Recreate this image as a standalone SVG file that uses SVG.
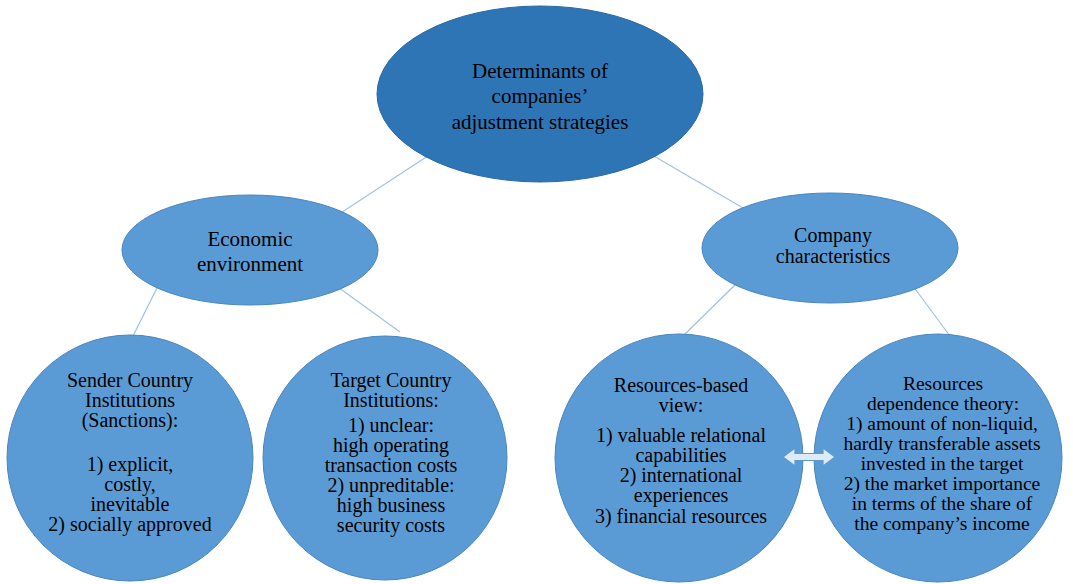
<svg xmlns="http://www.w3.org/2000/svg" width="1073" height="584" viewBox="0 0 1073 584">
<style>
.bg{fill:#ffffff}
.conn{stroke:#9DC3E6;stroke-width:1.2;fill:none}
.top{fill:#2E75B6;stroke:#2A69A4;stroke-width:1}
.node{fill:#5B9BD5;stroke:#4A86BF;stroke-width:1}
text{font-family:'Liberation Serif','DejaVu Serif',serif;fill:#000;text-anchor:middle}
.t21{font-size:21px}
.t20{font-size:20px}
.t19{font-size:19.5px}
.arrow{fill:#DEEBF7;stroke:#5B9BD5;stroke-width:1.2}
</style>
<rect class="bg" x="0" y="0" width="1073" height="584"/>
<g id="connectors">
<line class="conn" x1="440" y1="148" x2="330" y2="220"/>
<line class="conn" x1="640" y1="148" x2="750" y2="212"/>
<line class="conn" x1="160" y1="282" x2="132" y2="338"/>
<line class="conn" x1="335" y1="285" x2="400" y2="332"/>
<line class="conn" x1="740" y1="280" x2="683" y2="336"/>
<line class="conn" x1="910" y1="282" x2="950" y2="336"/>
</g>
<g id="node-root">
<ellipse class="top" cx="540" cy="94" rx="163" ry="88"/>
<text class="t21" x="540" y="78">Determinants of</text>
<text class="t21" x="540" y="103">companies’</text>
<text class="t21" x="540" y="129">adjustment strategies</text>
</g>
<g id="node-economic">
<ellipse class="node" cx="250" cy="250" rx="128" ry="55"/>
<text class="t21" x="250" y="246">Economic</text>
<text class="t21" x="250" y="271">environment</text>
</g>
<g id="node-company">
<ellipse class="node" cx="830" cy="248" rx="128" ry="55"/>
<text class="t20" x="833" y="242">Company</text>
<text class="t20" x="833" y="263">characteristics</text>
</g>
<g id="node-sender">
<circle class="node" cx="130" cy="458" r="123"/>
<text class="t20" x="130" y="387">Sender Country</text>
<text class="t20" x="130" y="407">Institutions</text>
<text class="t20" x="130" y="427">(Sanctions):</text>
<text class="t20" x="130" y="471">1) explicit,</text>
<text class="t20" x="130" y="491">costly,</text>
<text class="t20" x="130" y="511">inevitable</text>
<text class="t20" x="130" y="531">2) socially approved</text>
</g>
<g id="node-target">
<circle class="node" cx="385" cy="458" r="122"/>
<text class="t20" x="391" y="387">Target Country</text>
<text class="t20" x="391" y="407">Institutions:</text>
<text class="t20" x="391" y="432">1) unclear:</text>
<text class="t20" x="391" y="452">high operating</text>
<text class="t20" x="391" y="472">transaction costs</text>
<text class="t20" x="391" y="492">2) unpreditable:</text>
<text class="t20" x="391" y="512">high business</text>
<text class="t20" x="391" y="532">security costs</text>
</g>
<g id="node-rbv">
<circle class="node" cx="679" cy="458" r="124"/>
<text class="t20" x="681" y="392">Resources-based</text>
<text class="t20" x="681" y="412">view:</text>
<text class="t20" x="681" y="442">1) valuable relational</text>
<text class="t20" x="681" y="462">capabilities</text>
<text class="t20" x="681" y="482">2) international</text>
<text class="t20" x="681" y="502">experiences</text>
<text class="t20" x="681" y="523">3) financial resources</text>
</g>
<g id="node-rdt">
<circle class="node" cx="938" cy="458" r="124"/>
<text class="t19" x="943" y="390">Resources</text>
<text class="t19" x="943" y="410">dependence theory:</text>
<text class="t19" x="942" y="430">1) amount of non-liquid,</text>
<text class="t19" x="942" y="450">hardly transferable assets</text>
<text class="t19" x="942" y="470">invested in the target</text>
<text class="t19" x="942" y="490">2) the market importance</text>
<text class="t19" x="942" y="510">in terms of the share of</text>
<text class="t19" x="942" y="530">the company’s income</text>
</g>
<g id="double-arrow">
<polygon class="arrow" points="783,457 795,448 795,453.5 823,453.5 823,448 835,457 823,466 823,460.5 795,460.5 795,466"/>
</g>
</svg>
